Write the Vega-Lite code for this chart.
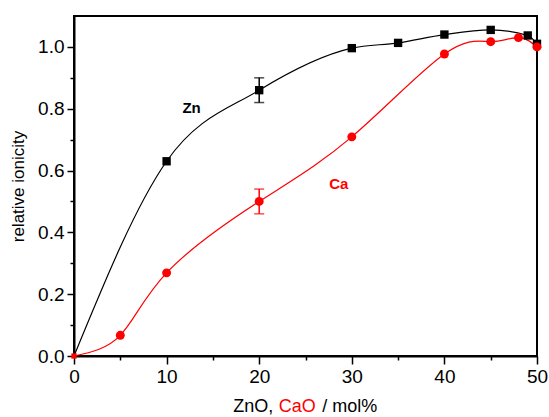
{
  "$schema": "https://vega.github.io/schema/vega-lite/v6.json",
  "width": 463,
  "height": 340,
  "autosize": {"type": "none"},
  "padding": {"left": 74, "top": 16, "right": 12, "bottom": 61},
  "config": {
    "font": "Liberation Sans",
    "view": {"stroke": "black", "strokeWidth": 2},
    "axis": {
      "domainColor": "black", "domainWidth": 2,
      "tickColor": "black", "tickWidth": 1.5,
      "labelColor": "black", "labelFont": "Liberation Sans", "labelFontSize": 19,
      "titleColor": "black", "titleFont": "Liberation Sans", "titleFontWeight": "normal",
      "grid": false
    }
  },
  "datasets": {
    "series": [
      {"series": "Zn", "mol": 0, "ionicity": 0},
      {"series": "Zn", "mol": 10, "ionicity": 0.63},
      {"series": "Zn", "mol": 20, "ionicity": 0.86},
      {"series": "Zn", "mol": 30, "ionicity": 0.996},
      {"series": "Zn", "mol": 35, "ionicity": 1.013},
      {"series": "Zn", "mol": 40, "ionicity": 1.04},
      {"series": "Zn", "mol": 45, "ionicity": 1.055},
      {"series": "Zn", "mol": 49, "ionicity": 1.037},
      {"series": "Zn", "mol": 50, "ionicity": 1.01},
      {"series": "Ca", "mol": 0, "ionicity": 0},
      {"series": "Ca", "mol": 5, "ionicity": 0.067},
      {"series": "Ca", "mol": 10, "ionicity": 0.269},
      {"series": "Ca", "mol": 20, "ionicity": 0.50},
      {"series": "Ca", "mol": 30, "ionicity": 0.709},
      {"series": "Ca", "mol": 40, "ionicity": 0.977},
      {"series": "Ca", "mol": 45, "ionicity": 1.017},
      {"series": "Ca", "mol": 48, "ionicity": 1.03},
      {"series": "Ca", "mol": 50, "ionicity": 1.0}
    ],
    "errors": [
      {"series": "Zn", "mol": 20, "lo": 0.82, "hi": 0.90},
      {"series": "Ca", "mol": 20, "lo": 0.46, "hi": 0.54}
    ],
    "labels": [
      {"series": "Zn", "mol": 12.7, "ionicity": 0.786, "text": "Zn"},
      {"series": "Ca", "mol": 28.6, "ionicity": 0.54, "text": "Ca"}
    ],
    "xtitle": [
      {"part": "ZnO,", "mol": 17.2, "ionicity": 0, "series": "Zn"},
      {"part": "CaO", "mol": 22.1, "ionicity": 0, "series": "Ca"},
      {"part": "/ mol%", "mol": 26.8, "ionicity": 0, "series": "Zn"}
    ]
  },
  "encoding": {
    "x": {
      "field": "mol", "type": "quantitative",
      "scale": {"domain": [0, 50], "nice": false, "zero": false},
      "axis": {
        "title": null,
        "values": [0, 5, 10, 15, 20, 25, 30, 35, 40, 45, 50],
        "labelExpr": "datum.value % 10 == 0 ? datum.label : ''",
        "tickSize": {"condition": {"test": "datum.value % 10 == 0", "value": 8}, "value": 4},
        "labelPadding": 3,
        "labelFlush": false
      }
    },
    "y": {
      "field": "ionicity", "type": "quantitative",
      "scale": {"domain": [0, 1.1], "nice": false},
      "axis": {
        "title": "relative ionicity",
        "titleFontSize": 17,
        "titlePadding": 10,
        "values": [0, 0.1, 0.2, 0.3, 0.4, 0.5, 0.6, 0.7, 0.8, 0.9, 1.0],
        "format": ".1f",
        "labelExpr": "round(datum.value * 10) % 2 == 0 ? datum.label : ''",
        "tickSize": {"condition": {"test": "round(datum.value * 10) % 2 == 0", "value": 7}, "value": 4},
        "labelPadding": 3,
        "labelFlush": false
      }
    },
    "color": {
      "field": "series", "type": "nominal",
      "scale": {"domain": ["Zn", "Ca"], "range": ["black", "red"]},
      "legend": null
    }
  },
  "layer": [
    {
      "data": {"name": "series"},
      "transform": [{"filter": "datum.series == 'Zn'"}],
      "mark": {"type": "line", "interpolate": "monotone", "strokeWidth": 1.2}
    },
    {
      "data": {"name": "series"},
      "transform": [{"filter": "datum.series == 'Ca'"}],
      "mark": {"type": "line", "interpolate": "natural", "strokeWidth": 1.2}
    },
    {
      "data": {"name": "errors"},
      "mark": {"type": "rule", "strokeWidth": 1.5},
      "encoding": {"y": {"field": "lo", "type": "quantitative"}, "y2": {"field": "hi"}}
    },
    {
      "data": {"name": "errors"},
      "mark": {"type": "tick", "orient": "horizontal", "size": 10, "thickness": 1.5},
      "encoding": {"y": {"field": "lo", "type": "quantitative"}}
    },
    {
      "data": {"name": "errors"},
      "mark": {"type": "tick", "orient": "horizontal", "size": 10, "thickness": 1.5},
      "encoding": {"y": {"field": "hi", "type": "quantitative"}}
    },
    {
      "data": {"name": "series"},
      "transform": [{"filter": "datum.series == 'Zn' && datum.mol > 0"}],
      "mark": {"type": "point", "shape": "square", "filled": true, "size": 70, "opacity": 1}
    },
    {
      "data": {"name": "series"},
      "transform": [{"filter": "datum.series == 'Ca' && datum.mol > 0"}],
      "mark": {"type": "point", "shape": "circle", "filled": true, "size": 80, "opacity": 1}
    },
    {
      "data": {"name": "series"},
      "transform": [{"filter": "datum.series == 'Ca' && datum.mol == 0"}],
      "mark": {"type": "point", "shape": "square", "filled": true, "size": 28, "opacity": 1}
    },
    {
      "data": {"name": "labels"},
      "mark": {"type": "text", "fontSize": 15, "fontWeight": "bold", "align": "center", "baseline": "alphabetic"},
      "encoding": {"text": {"field": "text"}}
    },
    {
      "data": {"name": "xtitle"},
      "mark": {"type": "text", "fontSize": 18, "align": "left", "baseline": "alphabetic", "dy": 56},
      "encoding": {"text": {"field": "part"}}
    }
  ]
}
